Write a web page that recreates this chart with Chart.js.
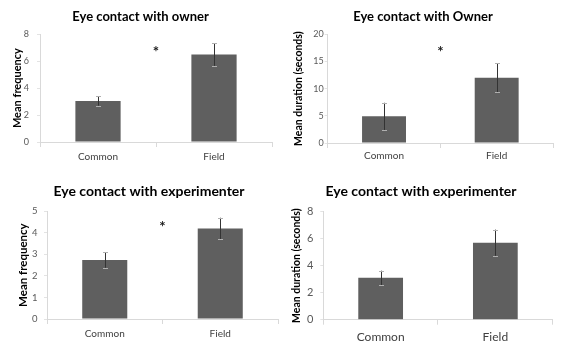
<!DOCTYPE html>
<html><head><meta charset="utf-8">
<script src="https://cdn.jsdelivr.net/npm/chart.js@4.4.1/dist/chart.umd.min.js"></script>
<style>
html,body{margin:0;padding:0;background:#fff}
body{width:562px;height:348px;position:relative;overflow:hidden}
canvas{position:absolute}
</style></head><body>
<canvas id="c1" width="281" height="174" style="left:0px;top:0px"></canvas>
<canvas id="c2" width="281" height="174" style="left:281px;top:0px"></canvas>
<canvas id="c3" width="281" height="174" style="left:0px;top:174px"></canvas>
<canvas id="c4" width="281" height="174" style="left:281px;top:174px"></canvas>
<script>
// ---- data ----
const categories = ['Common', 'Field'];
const titles = ['Eye contact with owner', 'Eye contact with Owner', 'Eye contact with experimenter', 'Eye contact with experimenter'];
const yTitles = ['Mean frequency', 'Mean duration (seconds)', 'Mean frequency', 'Mean duration (seconds)'];
const freqOwner = [3.05, 6.5];
const freqOwnerErr = [0.35, 0.85];
const durOwner = [4.9, 12.0];
const durOwnerErr = [2.5, 2.65];
const freqExp = [2.74, 4.2];
const freqExpErr = [0.36, 0.5];
const durExp = [3.1, 5.7];
const durExpErr = [0.53, 0.97];
const yMax = [8, 20, 5, 8];
const yStep = [2, 5, 1, 2];
const sigMarks = [6.9, 17.3, 4.38, null]; // asterisk heights (null = none)

const values = [freqOwner, durOwner, freqExp, durExp];
const errors = [freqOwnerErr, durOwnerErr, freqExpErr, durExpErr];

// ---- layout/styling per panel ----
const FONT = 'Lato, "Open Sans", "Liberation Sans", sans-serif';
const panels = [
  {id:'c1', padL:9,  padR:9,   yW:31,   xH:32,   tSize:13, tPT:8.7, tPB:10,   ytSize:11,   ytPad:2,  tickSize:9,    yTickPad:8, catSize:10, catPad:3.7},
  {id:'c2', padL:12, padR:9,   yW:34.7, xH:31,   tSize:13, tPT:8.7, tPB:10,   ytSize:10.5, ytPad:-1, tickSize:9,    yTickPad:1, catSize:10, catPad:2},
  {id:'c3', padL:20, padR:3,   yW:27,   xH:29,   tSize:14, tPT:9.1, tPB:11.4, ytSize:11.5, ytPad:-4, tickSize:9.5,  yTickPad:6.5, catSize:10, catPad:3.3},
  {id:'c4', padL:8.3,padR:9.3, yW:34,   xH:28.3, tSize:14, tPT:9.1, tPB:11.8, ytSize:10.5, ytPad:1.5,tickSize:11,   yTickPad:7, catSize:12, catPad:4.8}
];

const errorBarPlugin = {
  id: 'errorBars',
  afterDatasetsDraw(chart, args, opts) {
    const ctx = chart.ctx;
    const meta = chart.getDatasetMeta(0);
    const ys = chart.scales.y;
    ctx.save();
    meta.data.forEach((bar, i) => {
      const v = opts.values[i], e = opts.errors[i];
      const x = Math.round(bar.x) + 0.5;
      const yT = ys.getPixelForValue(v + e);
      const yB = ys.getPixelForValue(v - e);
      ctx.strokeStyle = '#333333';
      ctx.lineWidth = 1;
      ctx.beginPath();
      ctx.moveTo(x, yT); ctx.lineTo(x, yB);
      ctx.stroke();
      ctx.strokeStyle = '#b0b0b0';
      ctx.beginPath();
      ctx.moveTo(x - 2.5, Math.round(yT) + 0.5); ctx.lineTo(x + 2.5, Math.round(yT) + 0.5);
      ctx.moveTo(x - 2.5, Math.round(yB) + 0.5); ctx.lineTo(x + 2.5, Math.round(yB) + 0.5);
      ctx.stroke();
    });
    if (opts.sig != null) {
      const xs = chart.scales.x;
      ctx.fillStyle = '#1a1a1a';
      ctx.font = 'bold 15px ' + FONT;
      ctx.textAlign = 'center';
      ctx.textBaseline = 'middle';
      ctx.fillText('*', xs.getPixelForValue(0.5), ys.getPixelForValue(opts.sig) + 3);
    }
    ctx.restore();
  }
};

panels.forEach((p, k) => {
  new Chart(document.getElementById(p.id), {
    type: 'bar',
    data: {
      labels: categories,
      datasets: [{
        data: values[k],
        backgroundColor: '#5f5f5f',
        borderWidth: 0,
        categoryPercentage: 1,
        barPercentage: 0.39
      }]
    },
    plugins: [errorBarPlugin],
    options: {
      responsive: false,
      animation: false,
      events: [],
      layout: {padding: {left: p.padL, right: p.padR, top: 0, bottom: 0}},
      plugins: {
        legend: {display: false},
        tooltip: {enabled: false},
        title: {
          display: true,
          text: titles[k],
          color: '#000',
          font: {family: FONT, size: p.tSize, weight: 'bold'},
          padding: {top: p.tPT, bottom: p.tPB}
        },
        errorBars: {values: values[k], errors: errors[k], sig: sigMarks[k]}
      },
      scales: {
        x: {
          grid: {display: true, offset: true, drawOnChartArea: false, drawTicks: true, tickLength: 5, color: '#d9d9d9'},
          border: {display: true, color: '#d9d9d9'},
          ticks: {color: '#404040', font: {family: FONT, size: p.catSize}, padding: p.catPad, maxRotation: 0},
          afterFit(s) { s.height = p.xH; }
        },
        y: {
          min: 0, max: yMax[k],
          grid: {display: true, drawOnChartArea: false, drawTicks: true, tickLength: 3, color: '#e3e3e3'},
          border: {display: true, color: '#d9d9d9'},
          ticks: {stepSize: yStep[k], color: '#595959', font: {family: FONT, size: p.tickSize}, padding: p.yTickPad},
          title: {display: true, text: yTitles[k], color: '#000', font: {family: FONT, size: p.ytSize, weight: 'bold'}, padding: {top: p.ytPad, bottom: 0}},
          afterFit(s) { s.width = p.yW; }
        }
      }
    }
  });
});
</script>
</body></html>
